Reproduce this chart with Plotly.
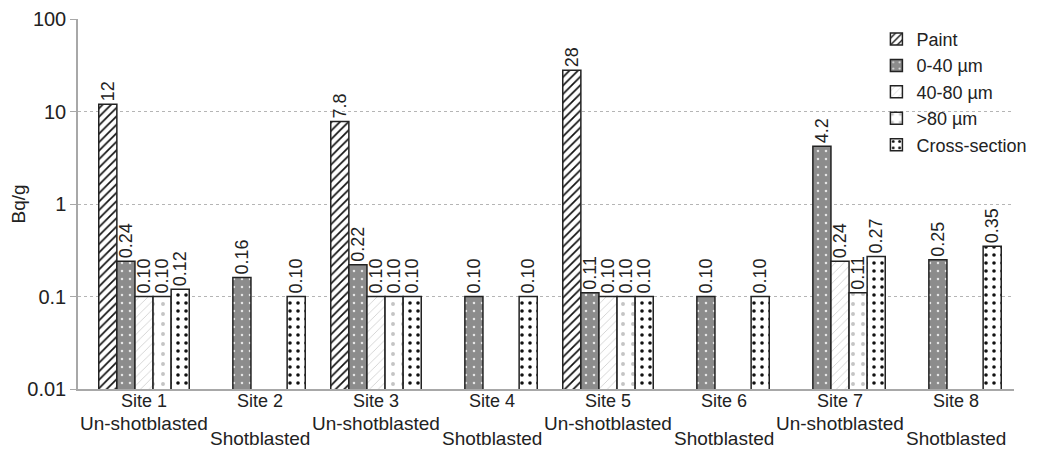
import plotly.graph_objects as go

sites = ["Site 1", "Site 2", "Site 3", "Site 4", "Site 5", "Site 6", "Site 7", "Site 8"]
site_types = ["Un-shotblasted", "Shotblasted", "Un-shotblasted", "Shotblasted",
              "Un-shotblasted", "Shotblasted", "Un-shotblasted", "Shotblasted"]

paint = [12, None, 7.8, None, 28, None, None, None]
um_0_40 = [0.24, 0.16, 0.22, 0.10, 0.11, 0.10, 4.2, 0.25]
um_40_80 = [0.10, None, 0.10, None, 0.10, None, 0.24, None]
um_80 = [0.10, None, 0.10, None, 0.10, None, 0.11, None]
cross = [0.12, 0.10, 0.10, 0.10, 0.10, 0.10, 0.27, 0.35]

y_tickvals = [0.01, 0.1, 1, 10, 100]
y_ticktext = ["0.01", "0.1", "1", "10", "100"]


def fmt(v):
    if v is None:
        return ""
    return f"{v:.2f}" if v < 1 else f"{v:g}"


FONT = "Liberation Sans, Arial, Helvetica, sans-serif"
TXT = "#222222"

series = [
    ("Paint", paint, dict(shape="/", fgcolor="#111111", bgcolor="white", size=6, solidity=0.28)),
    ("0-40 µm", um_0_40, dict(shape=".", fgcolor="#e6e6e6", bgcolor="#8c8c8c", size=8, solidity=0.08)),
    ("40-80 µm", um_40_80, dict(shape="/", fgcolor="#d2d2d2", bgcolor="white", size=6, solidity=0.15)),
    (">80 µm", um_80, dict(shape=".", fgcolor="#c4c4c4", bgcolor="white", size=10, solidity=0.12)),
    ("Cross-section", cross, dict(shape=".", fgcolor="#111111", bgcolor="white", size=8, solidity=0.16)),
]

fig = go.Figure()
for name, vals, pat in series:
    fig.add_trace(go.Bar(
        name=name,
        x=sites,
        y=vals,
        text=[fmt(v) for v in vals],
        textposition="outside",
        textangle=-90,
        constraintext="none",
        cliponaxis=False,
        textfont=dict(family=FONT, size=18, color=TXT),
        marker=dict(color=pat["bgcolor"], pattern=dict(fillmode="replace", **pat),
                    line=dict(color="#222222", width=1.5)),
    ))

for s, t in zip(sites, site_types):
    fig.add_annotation(
        x=s, xref="x", y=0, yref="paper",
        text=t, showarrow=False, yanchor="middle",
        yshift=-34 if t == "Un-shotblasted" else -49,
        font=dict(family=FONT, size=19, color=TXT),
    )

fig.update_layout(
    width=1040, height=446,
    margin=dict(l=70, r=34, t=11, b=65),
    paper_bgcolor="white", plot_bgcolor="white",
    barmode="group", bargap=0.22, bargroupgap=0,
    font=dict(family=FONT, size=17, color=TXT),
    showlegend=True,
    legend=dict(x=0.853, y=0.995, xanchor="left", yanchor="top",
                bgcolor="rgba(0,0,0,0)", font=dict(family=FONT, size=18, color=TXT),
                tracegroupgap=0, itemwidth=30),
    xaxis=dict(showline=True, linecolor="#a8a8a8", linewidth=2, ticks="",
               automargin=False, ticklabelstandoff=-6,
               tickfont=dict(family=FONT, size=18, color=TXT), showgrid=False),
    yaxis=dict(type="log", range=[-2, 2], tickvals=y_tickvals, ticktext=y_ticktext,
               automargin=False,
               showline=True, linecolor="#a8a8a8", linewidth=1.5,
               ticks="outside", ticklen=6, tickcolor="#a8a8a8",
               showgrid=True, gridcolor="#b5b5b5", griddash="dot", gridwidth=1.2,
               tickfont=dict(family=FONT, size=20, color=TXT),
               title=dict(text="Bq/g", font=dict(family=FONT, size=19, color=TXT), standoff=8)),
)

fig.write_html("out.html")
